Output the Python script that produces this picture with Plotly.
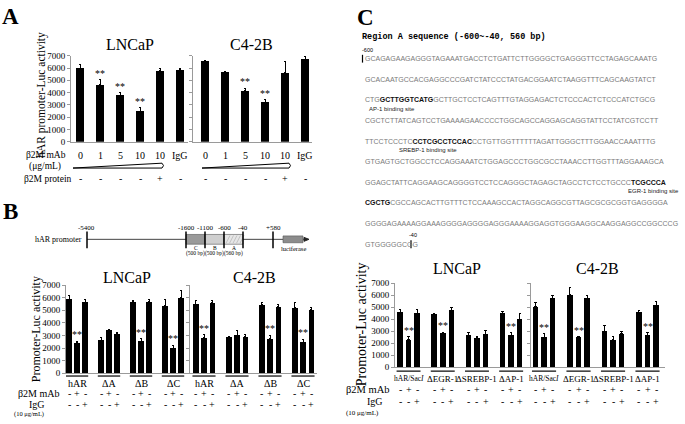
import plotly.graph_objects as go

W, H = 685, 424
SERIF = "Liberation Serif, Times New Roman, serif"
SANS = "Liberation Sans, Arial, sans-serif"
MONO = "Liberation Mono, Courier New, monospace"

# ---------------- data ----------------
A_doses = ["0", "1", "5", "10", "10", "IgG"]
A_protein = ["-", "-", "-", "-", "+", "-"]
A_lncap = [6000, 4650, 3800, 2500, 5800, 5850]
A_lncap_err = [250, 400, 200, 250, 200, 100]
A_lncap_sig = ["", "**", "**", "**", "", ""]
A_c42b = [6550, 5700, 4150, 3200, 5600, 6700]
A_c42b_err = [100, 30, 200, 200, 900, 250]
A_c42b_sig = ["", "", "**", "**", "", ""]

B_groups = ["hAR", "ΔA", "ΔB", "ΔC"]
mab_signs = ["-", "+", "-"]
igg_signs = ["-", "-", "+"]
B_lncap = [5900, 2400, 5650, 2600, 3400, 3150, 5700, 2550, 5700, 5350, 2000, 6000]
B_lncap_err = [300, 150, 250, 200, 100, 80, 50, 200, 150, 500, 200, 600]
B_lncap_sig = ["", "**", "", "", "", "", "", "**", "", "", "**", ""]
B_c42b = [5500, 2800, 5600, 2900, 3000, 2900, 5450, 2750, 5300, 5200, 2450, 5050]
B_c42b_err = [300, 250, 150, 0, 400, 200, 150, 250, 150, 400, 250, 150]
B_c42b_sig = ["", "**", "", "", "", "", "", "**", "", "", "**", ""]

C_groups = ["hAR/Sac<i>I</i>", "ΔEGR-1", "ΔSREBP-1", "ΔAP-1"]
C_lncap = [4600, 2300, 4500, 4470, 2820, 4750, 2680, 2450, 2750, 4500, 2680, 4000]
C_lncap_err = [250, 250, 350, 50, 100, 200, 250, 100, 350, 120, 200, 500]
C_lncap_sig = ["", "**", "", "", "**", "", "", "", "", "", "**", ""]
C_c42b = [5050, 2500, 5750, 6050, 2480, 5750, 3000, 2300, 2780, 4600, 2680, 5150]
C_c42b_err = [350, 300, 200, 600, 80, 200, 450, 300, 200, 150, 200, 350]
C_c42b_sig = ["", "**", "", "", "**", "", "", "", "", "", "**", ""]

seq_lines = [
    "GCAGAGAAGAGGGTAGAAATGACCTCTGATTCTTGGGGCTGAGGGTTCCTAGAGCAAATG",
    "GCACAATGCCACGAGGCCCGATCTATCCCTATGACGGAATCTAAGGTTTCAGCAAGTATCT",
    "CTG|GCTTGGTCATG|GCTTGCTCCTCAGTTTGTAGGAGACTCTCCCACTCTCCCATCTGCG",
    "CGCTCTTATCAGTCCTGAAAAGAACCCCTGGCAGCCAGGAGCAGGTATTCCTATCGTCCTT",
    "TTCCTCCCTC|CCTCGCCTCCAC|CCTGTTGGTTTTTTAGATTGGGCTTTGGAACCAAATTTG",
    "GTGAGTGCTGGCCTCCAGGAAATCTGGAGCCCTGGCGCCTAAACCTTGGTTTAGGAAAGCA",
    "GGAGCTATTCAGGAAGCAGGGGTCCTCCAGGGCTAGAGCTAGCCTCTCCTGCCC|TCGCCCA|",
    "|CGCTG|CGCCAGCACTTGTTTCTCCAAAGCCACTAGGCAGGCGTTAGCGCGCGGTGAGGGGA",
    "GGGGAGAAAAGGAAAGGGGAGGGGAGGGAAAAGGAGGTGGGAAGGCAAGGAGGCCGGCCCG",
    "GTGGGGGCGG",
]
site_labels = ["AP-1 binding site", "SREBP-1 binding site", "EGR-1 binding site"]

# ---------------- helpers ----------------
def px(x):
    return x / W

def py(y):
    return 1 - y / H

fig = go.Figure()
annotations = []
shapes = []

def ann(x, y, text, size, family=SERIF, color="black", xanchor="center",
        yanchor="middle", **kw):
    annotations.append(dict(x=px(x), y=py(y), xref="paper", yref="paper",
                            text=text, showarrow=False, xanchor=xanchor, borderpad=0,
                            yanchor=yanchor, font=dict(size=size, family=family, color=color),
                            **kw))

def xann(xname, x, y, text, size=10):
    annotations.append(dict(x=x, y=py(y), xref=xname, yref="paper", text=text,
                            showarrow=False, xanchor="center", yanchor="middle", borderpad=0,
                            font=dict(size=size, family=SERIF, color="black")))

def panel(n, values, errors, sig, xs, xdom, ydom, x0, step, width_px, labels):
    xname = "x" if n == 1 else f"x{n}"
    yname = "y" if n == 1 else f"y{n}"
    fig.add_trace(go.Bar(
        x=xs, y=values, width=width_px / step, marker=dict(color="black", line=dict(width=0)),
        error_y=dict(type="data", array=errors, arrayminus=[0] * len(errors), symmetric=False,
                     color="black", thickness=1, width=1.2),
        xaxis=xname, yaxis=yname, showlegend=False, hoverinfo="skip"))
    xr = [(xdom[0] - x0) / step, (xdom[1] - x0) / step]
    fig.layout["xaxis" if n == 1 else f"xaxis{n}"] = dict(
        domain=[px(xdom[0]), px(xdom[1])], range=xr, showline=True, linecolor="#9a9a9a",
        linewidth=1, ticks="", showticklabels=False, showgrid=False, zeroline=False,
        anchor=yname, fixedrange=True)
    fig.layout["yaxis" if n == 1 else f"yaxis{n}"] = dict(
        domain=[py(ydom[1]), py(ydom[0])], range=[0, 7000], showline=True, linecolor="#9a9a9a",
        linewidth=1, ticks="outside", ticklen=3, tickcolor="#9a9a9a", dtick=1000,
        showticklabels=labels, tickfont=dict(family=SERIF, size=9, color="black"),
        showgrid=False, zeroline=False, anchor=xname, fixedrange=True)
    for i, s in enumerate(sig):
        if s:
            annotations.append(dict(x=xs[i], y=values[i] + errors[i], xref=xname, yref=yname,
                                    text=s, showarrow=False, xanchor="center", yanchor="bottom",
                                    borderpad=0,
                                    font=dict(size=10, family=SERIF, color="black")))
    return xname

A_x = list(range(len(A_doses)))
G_x = [4 * (i // 3) + i % 3 for i in range(12)]

# ---------------- Panel A ----------------
ann(10, 12, "<b>A</b>", 23)
xa1 = panel(1, A_lncap, A_lncap_err, A_lncap_sig, A_x, (71, 188), (52, 140), 80, 20, 8.5, True)
xa2 = panel(2, A_c42b, A_c42b_err, A_c42b_sig, A_x, (193, 312), (52, 140), 205, 20, 8.5, False)
ann(130, 40, "LNCaP", 16)
ann(252, 40, "C4-2B", 16)
ann(42, 92, "hAR promoter-Luc activity", 11.5, textangle=-90)
ann(67, 154, "β2M mAb", 9.5, xanchor="right")
ann(45, 165, "(μg/mL)", 9.5)
ann(73, 178, "β2M protein", 9.5, xanchor="right")
for xname in (xa1, xa2):
    for i, (d, p) in enumerate(zip(A_doses, A_protein)):
        xann(xname, A_x[i], 154, d, 10)
        xann(xname, A_x[i], 178, p, 10)
for xl, xr_ in ((73, 162), (202, 289)):
    path = (f"M {px(xl)},{py(167)} L {px(xr_)},{py(162)} "
            f"Q {px(xr_ + 3)},{py(164.5)} {px(xr_)},{py(167)} Z")
    shapes.append(dict(type="path", xref="paper", yref="paper", path=path,
                   line=dict(color="black", width=1), fillcolor="white"))

# ---------------- Panel B ----------------
ann(10, 211, "<b>B</b>", 23)
ann(83, 240, "hAR promoter", 8, xanchor="right")
shapes.append(dict(type="line", xref="paper", yref="paper", x0=px(87), x1=px(305),
                   y0=py(240), y1=py(240), line=dict(color="#444", width=1)))
shapes.append(dict(type="path", xref="paper", yref="paper",
                   path=f"M {px(304)},{py(238)} L {px(309)},{py(240)} L {px(304)},{py(242)} Z",
                   fillcolor="#222", line=dict(color="#222", width=1)))
for (xa, xb, col) in ((186, 205, "#9a9a9a"), (205, 224, "#cfcfcf"), (224, 243, "#e6e6e6")):
    shapes.append(dict(type="rect", xref="paper", yref="paper", x0=px(xa), x1=px(xb),
                       y0=py(245), y1=py(235), fillcolor=col, line=dict(color="#555", width=0.6)))
for k in range(5):
    shapes.append(dict(type="line", xref="paper", yref="paper", x0=px(226 + 3.5 * k), x1=px(230 + 3.5 * k),
                       y0=py(244), y1=py(236), line=dict(color="#aaa", width=0.6)))
shapes.append(dict(type="rect", xref="paper", yref="paper", x0=px(283), x1=px(303),
                   y0=py(243.5), y1=py(236.5), fillcolor="#8c8c8c", line=dict(color="#555", width=0.6)))
for xt, lab in ((87, "-5400"), (186, "-1600"), (205, "-1100"), (224, "-600"), (243, "-40"), (273, "+580")):
    shapes.append(dict(type="line", xref="paper", yref="paper", x0=px(xt), x1=px(xt),
                       y0=py(232), y1=py(249), line=dict(color="black", width=1.5)))
    ann(xt, 228, lab, 7)
for xc, lab in ((195.5, "C"), (214.5, "B"), (233.5, "A")):
    ann(xc, 249, lab, 5.5)
    ann(xc, 255, "(500 bp)" if lab != "A" else "(560 bp)", 5.5)
ann(293, 249, "luciferase", 6.5)

xb1 = panel(3, B_lncap, B_lncap_err, B_lncap_sig, G_x, (66, 187), (287, 377), 69, 8.0, 5.5, True)
xb2 = panel(4, B_c42b, B_c42b_err, B_c42b_sig, G_x, (190, 317), (287, 377), 195.75, 8.25, 5.5, False)
ann(127, 279, "LNCaP", 16)
ann(254, 279, "C4-2B", 16)
ann(36, 332, "Promoter-Luc activity", 12, textangle=-90)
ann(17, 398, "β2M mAb", 10, xanchor="left")
ann(28, 409, "IgG", 10, xanchor="left")
ann(13, 419, "(10 μg/mL)", 6.5, xanchor="left")

# ---------------- Panel C ----------------
ann(366, 13, "<b>C</b>", 23)
ann(361, 33, "<b>Region A sequence (-600~-40, 560 bp)</b>", 8.5, family=MONO, xanchor="left")
ann(361, 46, "-600", 5.5, family=SANS, xanchor="left")
for i, line in enumerate(seq_lines):
    parts = line.split("|")
    txt = ""
    for k, p in enumerate(parts):
        if k % 2 == 1:
            txt += f"<span style='color:#111'><b>{p}</b></span>"
        else:
            txt += p
    ann(364, 55 + 21.1 * i, txt, 7.0, family=SANS, color="#7a7a7a", xanchor="left")
shapes.append(dict(type="line", xref="paper", yref="paper", x0=px(362.5), x1=px(362.5),
                   y0=py(51), y1=py(59), line=dict(color="black", width=1.2)))
shapes.append(dict(type="line", xref="paper", yref="paper", x0=px(411), x1=px(411),
                   y0=py(241), y1=py(249), line=dict(color="black", width=1.2)))
ann(408, 236, "-40", 5.5, family=SANS, xanchor="left")
ann(368, 106, site_labels[0], 6, family=SANS, color="#222", xanchor="left")
ann(398, 149, site_labels[1], 6, family=SANS, color="#222", xanchor="left")
ann(680, 191, site_labels[2], 6, family=SANS, color="#222", xanchor="right")

xc1 = panel(5, C_lncap, C_lncap_err, C_lncap_sig, G_x, (395, 527), (285, 371), 400, 8.55, 5.5, True)
xc2 = panel(6, C_c42b, C_c42b_err, C_c42b_sig, G_x, (531, 665), (285, 371), 535.4, 8.625, 5.5, False)
ann(457, 270, "LNCaP", 16)
ann(597, 270, "C4-2B", 16)
ann(361, 327, "Promoter-Luc activity", 14, textangle=-90)
ann(345, 394, "β2M mAb", 10.5, xanchor="left")
ann(375, 406, "IgG", 10)
ann(345, 418, "(10 μg/mL)", 7, xanchor="left")

# group underlines, labels and sign rows for B and C
for xname, groups, yline, ylab, ymab, yigg, labsize in (
        (xb1, B_groups, 380, 388, 398, 409, 10), (xb2, B_groups, 380, 388, 398, 409, 10),
        (xc1, C_groups, 375, 383, 394, 406, 9), (xc2, C_groups, 375, 383, 394, 406, 9)):
    for g, gl in enumerate(groups):
        shapes.append(dict(type="line", xref=xname, yref="paper", x0=4 * g - 0.4, x1=4 * g + 2.4,
                           y0=py(yline), y1=py(yline), line=dict(color="#333", width=1.5)))
        sz = labsize - 1.5 if "Sac" in gl else labsize
        xann(xname, 4 * g + 1, ylab, gl, sz)
        for b in range(3):
            xann(xname, 4 * g + b, ymab, mab_signs[b], 10)
            xann(xname, 4 * g + b, yigg, igg_signs[b], 10)

fig.update_layout(width=W, height=H, autosize=False, margin=dict(l=0, r=0, t=0, b=0),
                  paper_bgcolor="white", plot_bgcolor="rgba(0,0,0,0)", showlegend=False,
                  bargap=0, annotations=annotations, shapes=shapes)
fig.write_html("out.html", config={"displayModeBar": False, "staticPlot": True},
               post_script="document.body.style.margin='0';"
                           "document.documentElement.style.overflow='hidden';")
